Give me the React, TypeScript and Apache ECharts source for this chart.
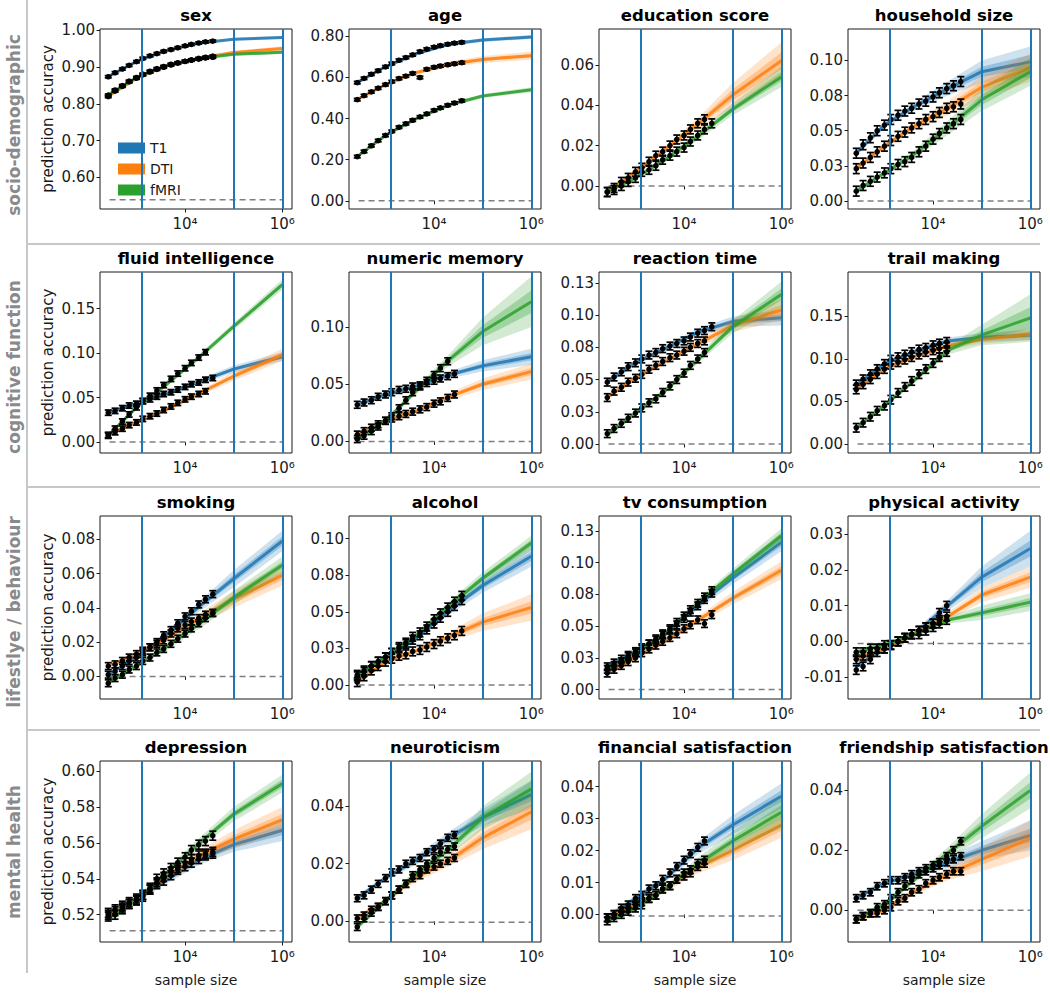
import React, { useEffect, useRef } from 'react';
import * as echarts from 'echarts';

const FONT = 'DejaVu Sans';
const MODALITIES = ['T1', 'DTI', 'fMRI'];
const COLORS = ['#1f77b4', '#ff7f0e', '#2ca02c'];

// sample sizes of the observed points and of the extrapolation knots
const SAMPLE_SIZES = [263, 363, 513, 708, 1000, 1350, 1900, 2630, 3630, 5130, 7080, 10000, 13500, 19100, 26300, 37200];
const FIT_SIZES = [260, 1000, 4000, 20000, 100000, 1000000];
const MARKER_SIZES = [1260, 100000, 1000000];
const CHANCE_START = 280;
const X_TICK_SIZES = [10000, 1000000];
const X_TICK_LABELS = ['10⁴', '10⁶'];

const TITLES = [
  'sex', 'age', 'education score', 'household size',
  'fluid intelligence', 'numeric memory', 'reaction time', 'trail making',
  'smoking', 'alcohol', 'tv consumption', 'physical activity',
  'depression', 'neuroticism', 'financial satisfaction', 'friendship satisfaction',
];
const ROW_LABELS = ['socio-demographic', 'cognitive function', 'lifestlye / behaviour', 'mental health'];

// y axis ranges, ticks, chance level, error half-width per panel
const Y_MIN = [0.514, -0.04, -0.0114, -0.0057, -0.0124, -0.0101, -0.007, -0.0106, -0.0132, -0.0095, -0.0074, -0.0161, 0.5048, -0.0072, -0.0086, -0.0106];
const Y_MAX = [1.004, 0.836, 0.0777, 0.1224, 0.1913, 0.148, 0.1335, 0.202, 0.0936, 0.1155, 0.1368, 0.0351, 0.6056, 0.0557, 0.048, 0.0498];
const Y_TICKS = [
  [0.6, 0.7, 0.8, 0.9, 1.0], [0, 0.2, 0.4, 0.6, 0.8], [0, 0.02, 0.04, 0.06], [0, 0.025, 0.05, 0.075, 0.1],
  [0, 0.05, 0.1, 0.15], [0, 0.05, 0.1], [0, 0.025, 0.05, 0.075, 0.1, 0.125], [0, 0.05, 0.1, 0.15],
  [0, 0.02, 0.04, 0.06, 0.08], [0, 0.025, 0.05, 0.075, 0.1], [0, 0.025, 0.05, 0.075, 0.1, 0.125], [-0.01, 0, 0.01, 0.02, 0.03],
  [0.52, 0.54, 0.56, 0.58, 0.6], [0, 0.02, 0.04], [0, 0.01, 0.02, 0.03, 0.04], [0, 0.02, 0.04],
];
const CHANCE = [0.539, 0, 0, 0, 0, 0, 0, 0, 0, 0, 0, -0.0006, 0.511, -0.0003, -0.0005, 0];
const ERR = [0.003, 0.006, 0.0022, 0.0035, 0.003, 0.003, 0.003, 0.005, 0.002, 0.003, 0.003, 0.0012, 0.0025, 0.0012, 0.0012, 0.0012];

// ---- observed points (T1, DTI, fMRI) and extrapolation centre / half-width ----
const sexT1 = [0.874, 0.885, 0.895, 0.905, 0.915, 0.924, 0.931, 0.937, 0.943, 0.948, 0.953, 0.958, 0.962, 0.966, 0.969, 0.971];
const sexDTI = [0.820, 0.835, 0.848, 0.860, 0.870, 0.879, 0.887, 0.894, 0.900, 0.906, 0.911, 0.916, 0.920, 0.924, 0.927, 0.930];
const sexFMRI = [0.824, 0.838, 0.850, 0.862, 0.872, 0.881, 0.889, 0.896, 0.902, 0.908, 0.912, 0.916, 0.919, 0.922, 0.925, 0.927];
const sexFit = [[0.874, 0.915, 0.945, 0.966, 0.976, 0.981], [0.820, 0.870, 0.903, 0.925, 0.940, 0.951], [0.824, 0.872, 0.903, 0.924, 0.935, 0.941]];
const sexSpread = [[0.002, 0.002, 0.002, 0.002, 0.003, 0.004], [0.003, 0.003, 0.003, 0.003, 0.004, 0.006], [0.003, 0.003, 0.003, 0.003, 0.004, 0.005]];

const ageT1 = [0.575, 0.596, 0.616, 0.633, 0.652, 0.668, 0.684, 0.697, 0.710, 0.726, 0.738, 0.748, 0.755, 0.762, 0.767, 0.771];
const ageDTI = [0.492, 0.512, 0.530, 0.548, 0.565, 0.580, 0.595, 0.607, 0.620, 0.600, 0.640, 0.650, 0.656, 0.662, 0.667, 0.672];
const ageFMRI = [0.215, 0.240, 0.268, 0.293, 0.318, 0.338, 0.358, 0.375, 0.392, 0.408, 0.423, 0.440, 0.452, 0.465, 0.476, 0.487];
const ageFit = [[0.575, 0.652, 0.713, 0.762, 0.782, 0.797], [0.492, 0.565, 0.622, 0.664, 0.688, 0.706], [0.215, 0.318, 0.396, 0.466, 0.510, 0.540]];
const ageSpread = [[0.008, 0.008, 0.008, 0.008, 0.009, 0.01], [0.008, 0.008, 0.01, 0.013, 0.017, 0.02], [0.008, 0.008, 0.008, 0.009, 0.01, 0.012]];

const eduT1: number[] = [];
const eduDTI = [-0.003, -0.001, 0.002, 0.004, 0.007, 0.009, 0.012, 0.015, 0.017, 0.020, 0.023, 0.025, 0.028, 0.031, 0.033];
const eduFMRI = [-0.003, -0.002, 0.000, 0.002, 0.004, 0.007, 0.008, 0.010, 0.013, 0.015, 0.017, 0.019, 0.022, 0.025, 0.028, 0.031];
const eduFit = [null, [-0.003, 0.007, 0.018, 0.031, 0.045, 0.062], [-0.003, 0.004, 0.013, 0.025, 0.038, 0.054]];
const eduSpread = [null, [0.001, 0.001, 0.0015, 0.003, 0.006, 0.009], [0.001, 0.001, 0.0015, 0.002, 0.003, 0.005]];

const hhT1 = [0.034, 0.040, 0.045, 0.050, 0.054, 0.058, 0.061, 0.064, 0.066, 0.069, 0.071, 0.074, 0.077, 0.080, 0.082, 0.085];
const hhDTI = [0.023, 0.027, 0.031, 0.035, 0.039, 0.043, 0.046, 0.049, 0.052, 0.055, 0.058, 0.060, 0.063, 0.066, 0.067, 0.069];
const hhFMRI = [0.007, 0.011, 0.014, 0.017, 0.020, 0.023, 0.026, 0.028, 0.031, 0.035, 0.039, 0.044, 0.048, 0.052, 0.055, 0.058];
const hhFit = [[0.034, 0.054, 0.067, 0.080, 0.092, 0.099], [0.023, 0.039, 0.053, 0.066, 0.081, 0.095], [0.007, 0.020, 0.033, 0.052, 0.072, 0.092]];
const hhSpread = [[0.002, 0.002, 0.003, 0.005, 0.008, 0.011], [0.002, 0.002, 0.003, 0.005, 0.008, 0.01], [0.002, 0.002, 0.003, 0.005, 0.008, 0.01]];

const fluidT1 = [0.033, 0.035, 0.038, 0.041, 0.043, 0.046, 0.048, 0.051, 0.054, 0.056, 0.059, 0.062, 0.065, 0.067, 0.070, 0.072];
const fluidDTI = [0.008, 0.011, 0.015, 0.019, 0.022, 0.026, 0.029, 0.032, 0.036, 0.040, 0.044, 0.048, 0.051, 0.054, 0.057];
const fluidFMRI = [0.007, 0.015, 0.023, 0.031, 0.039, 0.046, 0.052, 0.058, 0.064, 0.071, 0.077, 0.083, 0.089, 0.095, 0.101];
const fluidFit = [[0.033, 0.043, 0.054, 0.068, 0.082, 0.096], [0.008, 0.022, 0.036, 0.055, 0.074, 0.098], [0.007, 0.039, 0.064, 0.096, 0.130, 0.177]];
const fluidSpread = [[0.002, 0.002, 0.002, 0.003, 0.004, 0.005], [0.002, 0.002, 0.002, 0.003, 0.005, 0.007], [0.002, 0.002, 0.002, 0.003, 0.004, 0.006]];

const numT1 = [0.032, 0.034, 0.036, 0.039, 0.041, 0.043, 0.045, 0.046, 0.048, 0.049, 0.051, 0.053, 0.055, 0.057, 0.059];
const numDTI = [0.006, 0.009, 0.012, 0.015, 0.018, 0.020, 0.022, 0.024, 0.026, 0.028, 0.030, 0.033, 0.035, 0.038, 0.041];
const numFMRI = [0.002, 0.005, 0.009, 0.013, 0.018, 0.022, 0.029, 0.036, 0.043, 0.048, 0.053, 0.058, 0.064, 0.070];
const numFit = [[0.032, 0.041, 0.048, 0.058, 0.066, 0.074], [0.006, 0.018, 0.026, 0.039, 0.050, 0.061], [0.002, 0.018, 0.043, 0.071, 0.096, 0.122]];
const numSpread = [[0.002, 0.002, 0.002, 0.003, 0.005, 0.007], [0.002, 0.002, 0.002, 0.003, 0.005, 0.007], [0.002, 0.002, 0.003, 0.005, 0.012, 0.022]];

const rtT1 = [0.048, 0.052, 0.056, 0.060, 0.063, 0.066, 0.069, 0.071, 0.074, 0.076, 0.078, 0.080, 0.083, 0.086, 0.088, 0.091];
const rtDTI = [0.036, 0.041, 0.044, 0.048, 0.051, 0.054, 0.058, 0.061, 0.064, 0.067, 0.069, 0.072, 0.075, 0.078, 0.080];
const rtFMRI = [0.008, 0.012, 0.016, 0.020, 0.024, 0.028, 0.032, 0.035, 0.040, 0.045, 0.050, 0.055, 0.061, 0.066, 0.071];
const rtFit = [[0.048, 0.063, 0.074, 0.087, 0.095, 0.098], [0.036, 0.051, 0.064, 0.078, 0.092, 0.104], [0.007, 0.024, 0.041, 0.066, 0.091, 0.116]];
const rtSpread = [[0.002, 0.002, 0.002, 0.003, 0.004, 0.006], [0.002, 0.002, 0.002, 0.003, 0.005, 0.008], [0.002, 0.002, 0.002, 0.003, 0.005, 0.01]];

const trT1 = [0.070, 0.076, 0.082, 0.088, 0.094, 0.099, 0.102, 0.105, 0.108, 0.111, 0.113, 0.116, 0.118, 0.120];
const trDTI = [0.064, 0.070, 0.076, 0.082, 0.088, 0.093, 0.096, 0.099, 0.102, 0.105, 0.108, 0.110, 0.112, 0.114];
const trFMRI = [0.019, 0.025, 0.032, 0.039, 0.045, 0.052, 0.060, 0.067, 0.074, 0.082, 0.088, 0.095, 0.102, 0.108];
const trFit = [[0.069, 0.094, 0.108, 0.121, 0.125, 0.128], [0.064, 0.088, 0.102, 0.115, 0.123, 0.129], [0.018, 0.045, 0.074, 0.110, 0.128, 0.148]];
const trSpread = [[0.003, 0.003, 0.003, 0.004, 0.005, 0.006], [0.003, 0.003, 0.003, 0.004, 0.005, 0.007], [0.002, 0.002, 0.003, 0.005, 0.012, 0.028]];

const smT1 = [0.001, 0.003, 0.006, 0.009, 0.011, 0.014, 0.017, 0.020, 0.024, 0.027, 0.031, 0.035, 0.038, 0.042, 0.045, 0.048];
const smDTI = [0.006, 0.007, 0.009, 0.011, 0.013, 0.015, 0.017, 0.019, 0.021, 0.025, 0.028, 0.030, 0.032, 0.034, 0.036, 0.037];
const smFMRI = [-0.004, -0.001, 0.001, 0.004, 0.006, 0.009, 0.011, 0.014, 0.016, 0.019, 0.022, 0.025, 0.028, 0.031, 0.034, 0.037];
const smFit = [[0.001, 0.011, 0.024, 0.041, 0.057, 0.079], [0.006, 0.013, 0.022, 0.034, 0.045, 0.059], [-0.004, 0.006, 0.017, 0.031, 0.046, 0.065]];
const smSpread = [[0.001, 0.001, 0.002, 0.003, 0.005, 0.006], [0.001, 0.001, 0.002, 0.003, 0.005, 0.006], [0.001, 0.001, 0.002, 0.003, 0.004, 0.005]];

const alT1 = [0.007, 0.010, 0.013, 0.016, 0.019, 0.022, 0.025, 0.028, 0.031, 0.034, 0.038, 0.042, 0.046, 0.050, 0.054, 0.058];
const alDTI = [0.002, 0.006, 0.010, 0.013, 0.016, 0.018, 0.020, 0.021, 0.023, 0.024, 0.026, 0.028, 0.030, 0.032, 0.034, 0.037];
const alFMRI = [0.006, 0.009, 0.013, 0.016, 0.019, 0.022, 0.026, 0.029, 0.033, 0.036, 0.040, 0.045, 0.049, 0.053, 0.057, 0.061];
const alFit = [[0.007, 0.019, 0.031, 0.051, 0.068, 0.088], [0.002, 0.016, 0.023, 0.033, 0.043, 0.053], [0.006, 0.019, 0.033, 0.054, 0.073, 0.097]];
const alSpread = [[0.001, 0.002, 0.002, 0.003, 0.005, 0.007], [0.001, 0.002, 0.002, 0.003, 0.006, 0.009], [0.001, 0.002, 0.002, 0.003, 0.004, 0.005]];

const tvT1 = [0.018, 0.021, 0.024, 0.027, 0.030, 0.033, 0.036, 0.039, 0.043, 0.047, 0.051, 0.056, 0.061, 0.066, 0.071, 0.076];
const tvDTI = [0.013, 0.016, 0.019, 0.022, 0.025, 0.029, 0.032, 0.035, 0.038, 0.041, 0.044, 0.048, 0.051, 0.055, 0.052, 0.059];
const tvFMRI = [0.016, 0.019, 0.022, 0.026, 0.029, 0.032, 0.036, 0.040, 0.044, 0.048, 0.053, 0.058, 0.063, 0.068, 0.073, 0.078];
const tvFit = [[0.018, 0.030, 0.043, 0.067, 0.088, 0.116], [0.013, 0.025, 0.038, 0.055, 0.072, 0.094], [0.016, 0.029, 0.044, 0.069, 0.091, 0.121]];
const tvSpread = [[0.002, 0.002, 0.002, 0.003, 0.005, 0.007], [0.002, 0.002, 0.002, 0.003, 0.005, 0.007], [0.002, 0.002, 0.002, 0.003, 0.004, 0.006]];

const paT1 = [-0.008, -0.007, -0.005, -0.003, -0.002, -0.001, 0.000, 0.001, 0.002, 0.003, 0.004, 0.005, 0.008, 0.010];
const paDTI = [-0.005, -0.004, -0.003, -0.002, -0.002, -0.001, 0.000, 0.001, 0.002, 0.003, 0.004, 0.005, 0.006, 0.007];
const paFMRI = [-0.003, -0.003, -0.002, -0.002, -0.001, -0.001, 0.000, 0.001, 0.002, 0.002, 0.003, 0.004, 0.005, 0.006];
const paFit = [[-0.007, -0.002, 0.002, 0.010, 0.018, 0.026], [-0.005, -0.002, 0.002, 0.007, 0.013, 0.018], [-0.003, -0.001, 0.002, 0.006, 0.008, 0.011]];
const paSpread = [[0.001, 0.0008, 0.0008, 0.0015, 0.003, 0.005], [0.001, 0.0008, 0.0008, 0.001, 0.002, 0.003], [0.001, 0.0008, 0.0008, 0.001, 0.002, 0.0025]];

const depT1 = [0.521, 0.523, 0.525, 0.527, 0.529, 0.531, 0.534, 0.537, 0.539, 0.542, 0.545, 0.547, 0.549, 0.551, 0.553, 0.554];
const depDTI = [0.520, 0.522, 0.524, 0.526, 0.528, 0.530, 0.534, 0.538, 0.541, 0.544, 0.546, 0.549, 0.551, 0.553, 0.554, 0.555];
const depFMRI = [0.519, 0.520, 0.523, 0.526, 0.528, 0.531, 0.535, 0.540, 0.543, 0.546, 0.549, 0.552, 0.556, 0.559, 0.561, 0.564];
const depFit = [[0.521, 0.529, 0.539, 0.551, 0.559, 0.567], [0.520, 0.528, 0.541, 0.553, 0.562, 0.573], [0.518, 0.528, 0.543, 0.560, 0.576, 0.593]];
const depSpread = [[0.002, 0.002, 0.002, 0.003, 0.004, 0.006], [0.002, 0.002, 0.002, 0.003, 0.005, 0.007], [0.002, 0.002, 0.002, 0.003, 0.004, 0.005]];

const neuT1 = [0.008, 0.009, 0.011, 0.013, 0.015, 0.017, 0.018, 0.020, 0.021, 0.022, 0.024, 0.025, 0.027, 0.029, 0.030];
const neuDTI = [0.001, 0.002, 0.004, 0.005, 0.007, 0.009, 0.011, 0.013, 0.015, 0.016, 0.018, 0.019, 0.020, 0.021, 0.022];
const neuFMRI = [-0.002, 0.001, 0.003, 0.005, 0.007, 0.009, 0.011, 0.013, 0.016, 0.018, 0.020, 0.022, 0.024, 0.025, 0.026];
const neuFit = [[0.008, 0.015, 0.021, 0.029, 0.036, 0.044], [0.001, 0.007, 0.015, 0.021, 0.029, 0.038], [-0.002, 0.007, 0.016, 0.025, 0.036, 0.046]];
const neuSpread = [[0.001, 0.001, 0.0015, 0.002, 0.003, 0.005], [0.001, 0.001, 0.0015, 0.002, 0.004, 0.006], [0.001, 0.001, 0.0015, 0.002, 0.004, 0.006]];

const finT1 = [-0.001, 0.000, 0.002, 0.003, 0.005, 0.006, 0.008, 0.009, 0.011, 0.013, 0.015, 0.017, 0.019, 0.021, 0.023];
const finDTI = [-0.001, 0.000, 0.001, 0.002, 0.003, 0.004, 0.005, 0.006, 0.008, 0.009, 0.011, 0.012, 0.013, 0.015, 0.016];
const finFMRI = [-0.002, -0.001, 0.000, 0.001, 0.002, 0.003, 0.005, 0.006, 0.008, 0.009, 0.011, 0.013, 0.014, 0.016, 0.017];
const finFit = [[-0.001, 0.005, 0.011, 0.021, 0.028, 0.037], [-0.001, 0.003, 0.008, 0.015, 0.020, 0.028], [-0.002, 0.002, 0.008, 0.016, 0.023, 0.032]];
const finSpread = [[0.001, 0.001, 0.001, 0.002, 0.003, 0.004], [0.001, 0.001, 0.001, 0.002, 0.003, 0.004], [0.001, 0.001, 0.001, 0.002, 0.003, 0.005]];

const frT1 = [0.004, 0.005, 0.006, 0.008, 0.009, 0.010, 0.010, 0.011, 0.012, 0.013, 0.014, 0.014, 0.015, 0.016, 0.017, 0.018];
const frDTI = [-0.003, -0.002, -0.001, -0.001, 0.000, 0.001, 0.003, 0.004, 0.006, 0.007, 0.009, 0.010, 0.011, 0.012, 0.013, 0.013];
const frFMRI = [-0.003, -0.002, -0.001, 0.001, 0.002, 0.004, 0.006, 0.008, 0.010, 0.012, 0.013, 0.015, 0.016, 0.018, 0.020, 0.023];
const frFit = [[0.004, 0.009, 0.012, 0.016, 0.020, 0.025], [-0.003, 0.000, 0.006, 0.012, 0.017, 0.024], [-0.003, 0.002, 0.010, 0.019, 0.028, 0.040]];
const frSpread = [[0.001, 0.001, 0.001, 0.002, 0.003, 0.005], [0.001, 0.001, 0.001, 0.002, 0.004, 0.006], [0.001, 0.001, 0.001, 0.002, 0.004, 0.006]];

const PANEL_POINTS = [
  [sexT1, sexDTI, sexFMRI], [ageT1, ageDTI, ageFMRI], [eduT1, eduDTI, eduFMRI], [hhT1, hhDTI, hhFMRI],
  [fluidT1, fluidDTI, fluidFMRI], [numT1, numDTI, numFMRI], [rtT1, rtDTI, rtFMRI], [trT1, trDTI, trFMRI],
  [smT1, smDTI, smFMRI], [alT1, alDTI, alFMRI], [tvT1, tvDTI, tvFMRI], [paT1, paDTI, paFMRI],
  [depT1, depDTI, depFMRI], [neuT1, neuDTI, neuFMRI], [finT1, finDTI, finFMRI], [frT1, frDTI, frFMRI],
];
const PANEL_FITS: any[] = [sexFit, ageFit, eduFit, hhFit, fluidFit, numFit, rtFit, trFit, smFit, alFit, tvFit, paFit, depFit, neuFit, finFit, frFit];
const PANEL_SPREADS: any[] = [sexSpread, ageSpread, eduSpread, hhSpread, fluidSpread, numSpread, rtSpread, trSpread, smSpread, alSpread, tvSpread, paSpread, depSpread, neuSpread, finSpread, frSpread];

// layout
const COL_LEFT = [100, 349, 599, 848];
const ROW_TOP = [29, 272, 516, 761];
const ROW_H = [180, 181, 183, 181];
const PLOT_W = 192;
const X_MIN = 2.25; // log10 of sample size
const X_MAX = 6.2;
const ROW_LABEL_Y = [125, 367, 612, 852];
const SEPARATOR_Y = [244, 487, 730];

const lg = (n: number) => Math.log10(n);
const fmtY = (v: number) => (Math.round(v * 100 + 1e-9) / 100).toFixed(2);
const fmtX = (v: number) => {
  const idx = X_TICK_SIZES.findIndex((s) => Math.abs(lg(s) - v) < 1e-6);
  return idx >= 0 ? X_TICK_LABELS[idx] : '';
};

function hexToRgba(hex: string, a: number) {
  const r = parseInt(hex.slice(1, 3), 16);
  const g = parseInt(hex.slice(3, 5), 16);
  const b = parseInt(hex.slice(5, 7), 16);
  return `rgba(${r},${g},${b},${a})`;
}

function buildOption() {
  const grids: any[] = [];
  const xAxes: any[] = [];
  const yAxes: any[] = [];
  const series: any[] = [];
  const graphics: any[] = [];
  const xTicks = X_TICK_SIZES.map(lg);

  TITLES.forEach((title, i) => {
    const r = Math.floor(i / 4);
    const c = i % 4;
    grids.push({
      left: COL_LEFT[c], top: ROW_TOP[r], width: PLOT_W, height: ROW_H[r],
      show: true, borderColor: '#1a1a1a', borderWidth: 1, backgroundColor: 'transparent',
    });
    xAxes.push({
      type: 'value', gridIndex: i, min: X_MIN, max: X_MAX,
      axisLine: { show: false }, splitLine: { show: false },
      axisTick: { show: true, customValues: xTicks, length: 3.5, lineStyle: { color: '#1a1a1a' } },
      axisLabel: { customValues: xTicks, formatter: fmtX, fontSize: 15, fontFamily: FONT, color: '#1a1a1a', margin: 7 },
      name: r === 3 ? 'sample size' : '', nameLocation: 'middle', nameGap: 31,
      nameTextStyle: { fontSize: 14, fontFamily: FONT, color: '#1a1a1a' },
    });
    yAxes.push({
      type: 'value', gridIndex: i, min: Y_MIN[i], max: Y_MAX[i],
      axisLine: { show: false }, splitLine: { show: false },
      axisTick: { show: true, customValues: Y_TICKS[i], length: 3.5, lineStyle: { color: '#1a1a1a' } },
      axisLabel: { customValues: Y_TICKS[i], formatter: fmtY, fontSize: 15, fontFamily: FONT, color: '#1a1a1a', margin: 5 },
      name: c === 0 ? 'prediction accuracy' : '', nameLocation: 'middle', nameGap: 45,
      nameTextStyle: { fontSize: 15, fontFamily: FONT, color: '#1a1a1a' },
    });

    // chance level
    series.push({
      type: 'line', xAxisIndex: i, yAxisIndex: i, z: 1, silent: true, showSymbol: false, symbol: 'none',
      data: [[lg(CHANCE_START), CHANCE[i]], [lg(1000000), CHANCE[i]]],
      lineStyle: { color: '#7f7f7f', width: 1.5, type: [6, 4] },
    });

    // extrapolation bands
    const fits = PANEL_FITS[i];
    const spreads = PANEL_SPREADS[i];
    MODALITIES.forEach((m, k) => {
      const fit = fits[k];
      if (!fit) return;
      const spread = spreads[k];
      const pts = FIT_SIZES.map((n, j) => [lg(n), fit[j], spread[j]]);
      const color = COLORS[k];
      series.push({
        type: 'custom', name: m, xAxisIndex: i, yAxisIndex: i, z: 2, silent: true,
        itemStyle: { color },
        encode: { x: 0, y: 1 },
        data: pts,
        renderItem: (params: any, api: any) => {
          if (params.dataIndex !== 0) return null;
          const up = pts.map((p) => api.coord([p[0], p[1] + p[2]]));
          const lo = pts.map((p) => api.coord([p[0], p[1] - p[2]])).reverse();
          const upIn = pts.map((p) => api.coord([p[0], p[1] + p[2] * 0.45]));
          const loIn = pts.map((p) => api.coord([p[0], p[1] - p[2] * 0.45])).reverse();
          const mid = pts.map((p) => api.coord([p[0], p[1]]));
          return {
            type: 'group',
            children: [
              { type: 'polygon', shape: { points: up.concat(lo) }, style: { fill: hexToRgba(color, 0.22) } },
              { type: 'polygon', shape: { points: upIn.concat(loIn) }, style: { fill: hexToRgba(color, 0.3) } },
              { type: 'polyline', shape: { points: mid }, style: { stroke: hexToRgba(color, 0.85), lineWidth: 3, fill: 'none', lineJoin: 'round' } },
            ],
          };
        },
      });
    });

    // vertical reference lines
    series.push({
      type: 'line', xAxisIndex: i, yAxisIndex: i, z: 3, silent: true, showSymbol: false, symbol: 'none',
      data: [[lg(CHANCE_START), CHANCE[i]]],
      lineStyle: { opacity: 0 },
      markLine: {
        silent: true, symbol: ['none', 'none'], label: { show: false },
        lineStyle: { color: '#1f77b4', width: 2, type: 'solid' },
        data: MARKER_SIZES.map((n) => ({ xAxis: lg(n) })),
      },
    });

    // observed points with error bars
    const err = ERR[i];
    PANEL_POINTS[i].forEach((vals) => {
      if (!vals.length) return;
      series.push({
        type: 'custom', xAxisIndex: i, yAxisIndex: i, z: 4, silent: true,
        encode: { x: 0, y: 1 },
        data: vals.map((v, j) => [lg(SAMPLE_SIZES[j]), v]),
        renderItem: (params: any, api: any) => {
          const x = api.value(0);
          const y = api.value(1);
          const c0 = api.coord([x, y]);
          const t = api.coord([x, y + err]);
          const b = api.coord([x, y - err]);
          const st = { stroke: '#000', lineWidth: 1.7 };
          return {
            type: 'group',
            children: [
              { type: 'line', shape: { x1: c0[0], y1: t[1], x2: c0[0], y2: b[1] }, style: st },
              { type: 'line', shape: { x1: c0[0] - 3.5, y1: t[1], x2: c0[0] + 3.5, y2: t[1] }, style: st },
              { type: 'line', shape: { x1: c0[0] - 3.5, y1: b[1], x2: c0[0] + 3.5, y2: b[1] }, style: st },
              { type: 'circle', shape: { cx: c0[0], cy: c0[1], r: 2.8 }, style: { fill: '#000' } },
            ],
          };
        },
      });
    });

    graphics.push({
      type: 'text', x: COL_LEFT[c] + PLOT_W / 2, y: ROW_TOP[r] - 14, silent: true,
      style: { text: title, font: `bold 16.5px "${FONT}"`, fill: '#000', align: 'center', verticalAlign: 'middle', textAlign: 'center', textVerticalAlign: 'middle' },
    });
  });

  // separators and row labels
  graphics.push({ type: 'line', silent: true, shape: { x1: 27, y1: 0, x2: 27, y2: 973 }, style: { stroke: '#c8c8c8', lineWidth: 2 } });
  SEPARATOR_Y.forEach((y) => {
    graphics.push({ type: 'line', silent: true, shape: { x1: 27, y1: y, x2: 1040, y2: y }, style: { stroke: '#c8c8c8', lineWidth: 2 } });
  });
  ROW_LABELS.forEach((label, r) => {
    graphics.push({
      type: 'text', x: 14, y: ROW_LABEL_Y[r], rotation: Math.PI / 2, silent: true,
      style: { text: label, font: `bold 17px "${FONT}"`, fill: '#8a8a8a', align: 'center', verticalAlign: 'middle', textAlign: 'center', textVerticalAlign: 'middle' },
    });
  });

  return {
    animation: false,
    backgroundColor: '#ffffff',
    grid: grids,
    xAxis: xAxes,
    yAxis: yAxes,
    series,
    graphic: graphics,
    legend: {
      data: MODALITIES, left: 113, top: 136, orient: 'vertical', icon: 'rect',
      itemWidth: 27, itemHeight: 11, itemGap: 7, selectedMode: false,
      textStyle: { fontSize: 14, fontFamily: FONT, color: '#1a1a1a' },
    },
  };
}

export default function App() {
  const ref = useRef<HTMLDivElement>(null);
  useEffect(() => {
    if (!ref.current) return;
    const chart = echarts.init(ref.current, null, { renderer: 'svg' });
    chart.setOption(buildOption() as any);
    return () => chart.dispose();
  }, []);
  return (
    <div
      ref={ref}
      style={{ position: 'absolute', left: 0, top: 0, width: 1050, height: 993, background: '#fff' }}
    />
  );
}
